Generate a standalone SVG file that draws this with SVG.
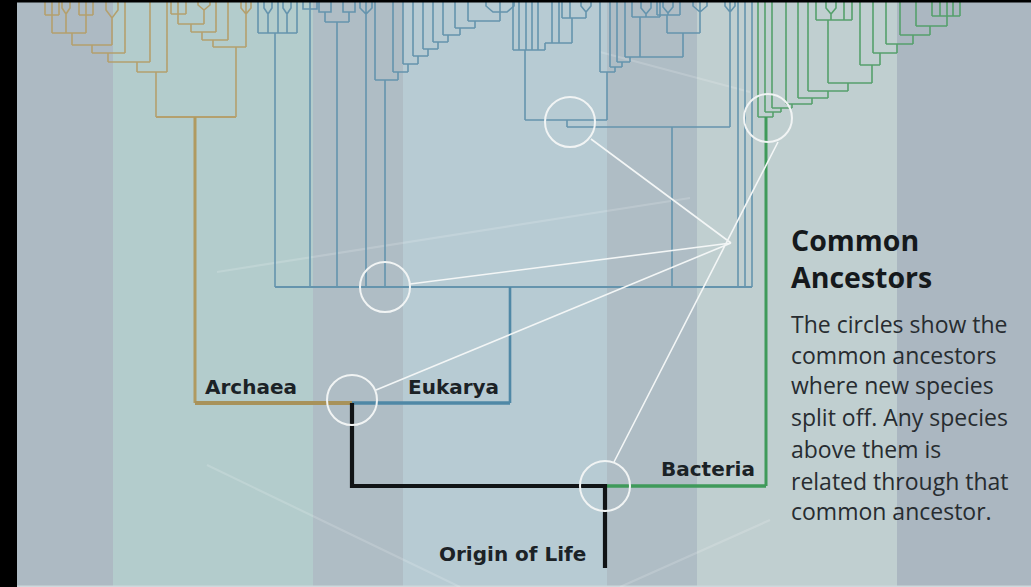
<svg xmlns="http://www.w3.org/2000/svg" width="1031" height="587" viewBox="0 0 1031 587">
  <defs>
    <style>
      .ar { fill: none; stroke: #b4a06e; stroke-width: 1.6; }
      .eu { fill: none; stroke: #6594ad; stroke-width: 1.6; }
      .ba { fill: none; stroke: #55a06c; stroke-width: 1.6; }
      .ring { fill: none; stroke: #f1f4f4; stroke-width: 2; }
      .pointer { fill: none; stroke: #f3f6f6; stroke-width: 1.6; }
      .ghost { fill: none; stroke: #ffffff; stroke-width: 2.2; opacity: 0.16; }
      .label { font-family: "DejaVu Sans", Verdana, sans-serif; font-weight: bold; font-size: 20px; fill: #1b2226; }
      .head { font-family: "Open Sans", "Noto Sans", sans-serif; font-weight: bold; font-size: 28.5px; fill: #15191c; }
      .body { font-family: "Open Sans", "Noto Sans", sans-serif; font-size: 23px; fill: #272c30; }
    </style>
  </defs>

  <!-- background bands -->
  <g id="background">
    <rect x="0" y="0" width="1031" height="587" fill="#adbac3"/>
    <rect x="113" y="0" width="200" height="587" fill="#b3cccc"/>
    <rect x="313" y="0" width="90" height="587" fill="#afbdc5"/>
    <rect x="403" y="0" width="204" height="587" fill="#b7cbd3"/>
    <rect x="607" y="0" width="90" height="587" fill="#afbdc5"/>
    <rect x="697" y="0" width="200" height="587" fill="#c0cfd0"/>
    <rect x="897" y="0" width="134" height="587" fill="#abb7c1"/>
    <rect x="0" y="585.5" width="1031" height="1.5" fill="#cfd8dc"/>
    <path class="ghost" d="M217,272L690,198 M207,465L460,587 M620,587L770,520 M600,52L750,92"/>
  </g>

  <!-- Archaea branch -->
  <g id="archaea-tree">
    <path class="ar" d="M156,117V72 M137,72H167 M167,72V0 M137,72V62 M108,62H150 M150,62V0 M108,62V53 M92,53H125 M125,53V0 M92,53V45 M72,45H112 M112,45V18 M106,0V10L112,18L118,10V0 M72,45V33 M52,33H86 M52,33V15 M45,15H59 M45,15V0 M59,15V0 M52,15V0 M86,33V15 M79,15H93 M79,15V0 M86,15V0 M93,15V0 M66,33V14 M62,0V8L66,14L70,8V0"/>
    <path class="ar" d="M236,117V47 M213,47H246 M246,47V0 M241,0V8L246,14L251,8V0 M213,47V40 M202,40H228 M228,40V0 M202,40V32 M191,32H216 M216,32V0 M191,32V24 M178,24H204 M204,24V10 M198,0V5L204,10L210,5V0 M178,24V14 M171,14H186 M171,14V0 M178,14V0 M186,14V0"/>
    <path class="ar" d="M156,117H236" style="stroke-width:1.8"/>
    <path class="ar" d="M195,403V117" style="stroke:#b09a60;stroke-width:3"/>
    <path class="ar" d="M195,403H352" style="stroke:#a8925a;stroke-width:4"/>
  </g>

  <!-- Eukarya branch -->
  <g id="eukarya-tree">
    <path class="eu" d="M275,287H752" style="stroke-width:2"/>
    <path class="eu" d="M275,287V33 M258,33H297 M258,33V0 M268,33V14 M264,0V8L268,14L272,8V0 M278,33V0 M287,33V14 M283,0V8L287,14L291,8V0 M297,33V0 M310,287V0 M303,0V9H317V0 M337,287V22 M325,22H349 M325,22V12 M319,0V12H331V0 M349,22V12 M343,0V12H355V0 M366,287V0 M360,0V8L366,14L372,8V0"/>
    <path class="eu" d="M385,287V80 M375,80H398 M375,80V0 M398,80V72 M393,72H408 M393,72V0 M408,72V64 M403,64H418 M403,64V0 M418,64V56 M413,56H428 M413,56V0 M428,56V49 M423,49H438 M423,49V0 M438,49V42 M433,42H448 M433,42V0 M448,42V35 M443,35H460 M443,35V0 M460,35V28 M455,28H475 M455,28V0 M475,28V21 M468,21H500 M468,21V0 M500,21V12 M486,0V6L493,12H507L514,6V0 M500,12V0"/>
    <path class="eu" d="M672,287V127 M567,127H730 M567,127V120 M525,120H607 M525,120V50 M513,50H545 M513,50V0 M519,50V0 M526,50V0 M532,50V0 M538,50V0 M545,50V43 M545,43H572 M552,43V0 M559,43V0 M572,43V18 M562,18H586 M562,18V0 M570,18V0 M586,18V12 M581,0V6L586,12L591,6V0"/>
    <path class="eu" d="M607,120V72 M600,72H615 M600,72V0 M615,72V67 M610,67H622 M610,67V0 M622,67V62 M617,62H630 M617,62V0 M630,62V57 M625,57H683 M625,57V0 M640,57V17 M632,17H660 M632,17V0 M660,17V0 M646,17V14 M641,0V8L646,14L651,8V0 M683,57V33 M667,33H700 M667,33V15 M657,15H680 M657,15V0 M680,15V0 M668,15V13 M663,0V7L668,13L673,7V0 M700,33V12 M693,0V6L700,12L707,6V0 M700,12V0 M730,127V0 M725,0V6L730,12L735,6V0 M738,287V0 M745,287V0 M752,287V0"/>
    <path class="eu" d="M510,403V287" style="stroke:#4f88a6;stroke-width:2.6"/>
    <path class="eu" d="M352,403H510" style="stroke:#4f88a6;stroke-width:3.5"/>
  </g>

  <!-- Bacteria branch -->
  <g id="bacteria-tree">
    <path class="ba" d="M758,117H773 M758,117V0 M773,117V112 M765,112H781 M765,112V0 M781,112V108 M772,108H792 M772,108V0 M792,108V104 M786,104H812 M786,104V0 M812,104V98 M798,98H828 M798,98V0 M828,98V91 M808,91H848 M808,91V0 M848,91V83 M828,83H872 M828,83V20 M816,20H852 M816,20V0 M831,20V14 M826,0V8L831,14L836,8V0 M844,20V0 M852,20V0 M872,83V65 M860,65H880 M860,65V0 M880,65V53 M873,53H897 M873,53V0 M897,53V44 M886,44H913 M886,44V0 M913,44V35 M900,35H930 M900,35V0 M930,35V26 M916,26H947 M916,26V0 M947,26V16 M932,16H960 M932,16V0 M940,16V0 M947,16V0 M953,16V0 M960,16V0"/>
    <path class="ba" d="M766,486V117" style="stroke:#3f9a5a;stroke-width:3"/>
    <path class="ba" d="M605,486H766" style="stroke:#3f9a5a;stroke-width:3.5"/>
  </g>

  <!-- root lineage -->
  <g id="origin">
    <path d="M352,403V486H605V568" fill="none" stroke="#111416" stroke-width="4.2"/>
  </g>

  <!-- pointers from the caption to the ancestor rings -->
  <g id="connectors">
    <path class="pointer" d="M591,139L731,243 M410,284L731,243 M376,390L731,243 M614,462L778,142"/>
  </g>

  <g id="ancestor-1"><circle class="ring" cx="570" cy="122" r="25"/></g>
  <g id="ancestor-2"><circle class="ring" cx="768" cy="118" r="24"/></g>
  <g id="ancestor-3"><circle class="ring" cx="385" cy="287" r="25"/></g>
  <g id="ancestor-4"><circle class="ring" cx="352" cy="400" r="25"/></g>
  <g id="ancestor-5"><circle class="ring" cx="605" cy="486" r="25"/></g>

  <g id="label-archaea"><text class="label" x="205" y="394">Archaea</text></g>
  <g id="label-eukarya"><text class="label" x="408" y="394">Eukarya</text></g>
  <g id="label-bacteria"><text class="label" x="661" y="476">Bacteria</text></g>
  <g id="label-origin"><text class="label" x="439" y="561">Origin of Life</text></g>

  <g id="caption">
    <text class="head" x="791" y="251">Common</text>
    <text class="head" x="791" y="288">Ancestors</text>
    <text class="body" x="791" y="333">The circles show the</text>
    <text class="body" x="791" y="364">common ancestors</text>
    <text class="body" x="791" y="394">where new species</text>
    <text class="body" x="791" y="426">split off. Any species</text>
    <text class="body" x="791" y="458">above them is</text>
    <text class="body" x="791" y="490">related through that</text>
    <text class="body" x="791" y="520">common ancestor.</text>
  </g>

  <!-- frame edges -->
  <rect x="0" y="0" width="17" height="587" fill="#000"/>
  <rect x="0" y="0" width="1031" height="2.5" fill="#000"/>
</svg>
